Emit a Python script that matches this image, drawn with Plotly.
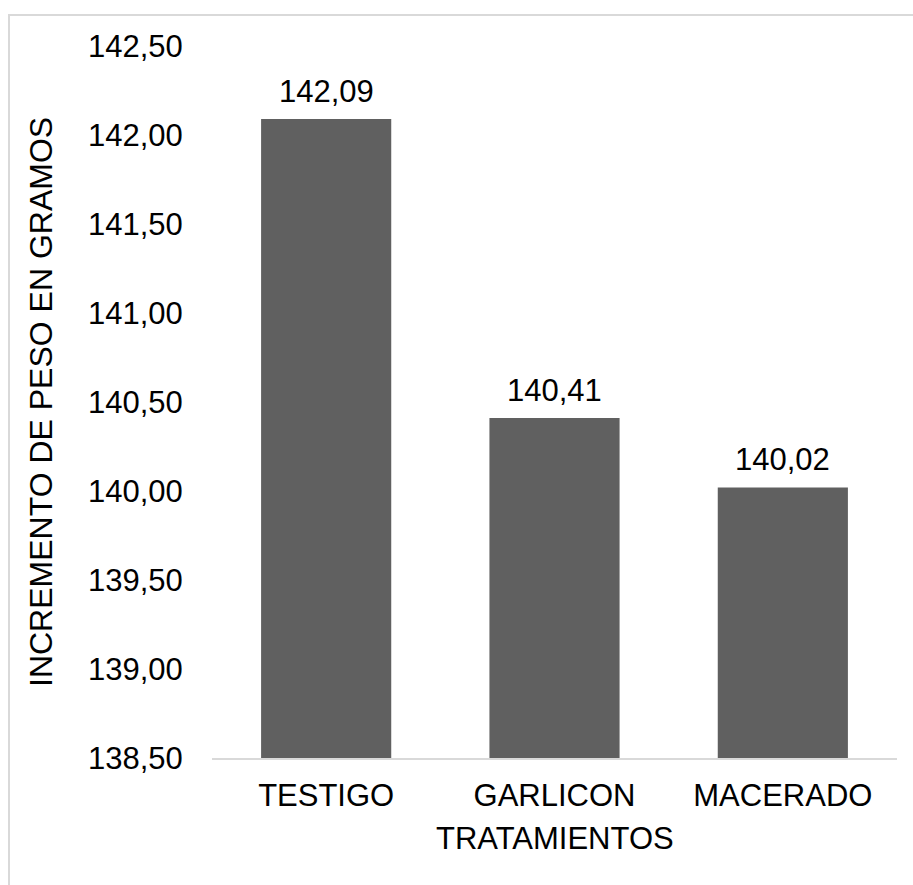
import plotly.graph_objects as go

# Treatments and mean weight gain (grams)
categories = ["TESTIGO", "GARLICON", "MACERADO"]
values = [142.09, 140.41, 140.02]
y_ticks = [138.5, 139.0, 139.5, 140.0, 140.5, 141.0, 141.5, 142.0, 142.5]

FONT = "Arial, Liberation Sans, sans-serif"
W, H = 913, 885
L, R, T, B = 212, 16, 46, 127
PW, PH = W - L - R, H - T - B

fig = go.Figure(
    go.Bar(
        x=categories,
        y=values,
        marker=dict(color="#606060", line=dict(width=0)),
        cliponaxis=False,
    )
)

# value labels above each bar
for cat, val in zip(categories, values):
    fig.add_annotation(
        x=cat, y=val,
        text=f"{val:.2f}".replace(".", ","),
        xanchor="center", yanchor="bottom",
        yshift=8, showarrow=False,
        font=dict(family=FONT, size=31, color="#000000"),
    )

# outer chart frame (light grey), running off the right and bottom edges
fig.add_shape(
    type="rect",
    xref="paper", yref="paper",
    x0=(9 - L) / PW, x1=(W + 20 - L) / PW,
    y0=-(B + 20) / PH, y1=(H - B - 15) / PH,
    line=dict(color="#d9d9d9", width=2),
    fillcolor="rgba(0,0,0,0)",
    layer="below",
)

fig.add_annotation(
    text="INCREMENTO DE PESO EN GRAMOS",
    xref="paper", yref="paper",
    x=(41 - L) / PW, y=0.5,
    xanchor="center", yanchor="middle",
    textangle=-90, showarrow=False,
    font=dict(family=FONT, size=32, color="#000000"),
)

fig.add_annotation(
    text="TRATAMIENTOS",
    xref="paper", yref="paper",
    x=0.5, y=-(838 - (H - B)) / PH,
    xanchor="center", yanchor="middle",
    showarrow=False,
    font=dict(family=FONT, size=31, color="#000000"),
)

fig.update_layout(
    width=W, height=H,
    margin=dict(l=L, r=R, t=T, b=B, pad=0),
    paper_bgcolor="white",
    plot_bgcolor="white",
    separators=",.",
    bargap=0.43,
    showlegend=False,
    font=dict(family=FONT, size=31, color="#000000"),
    xaxis=dict(
        showline=True, linecolor="#d9d9d9", linewidth=1.5,
        showgrid=False, ticks="outside", ticklen=9, tickcolor="rgba(0,0,0,0)",
        tickfont=dict(family=FONT, size=31, color="#000000"),
    ),
    yaxis=dict(
        range=[138.5, 142.5],
        tickvals=y_ticks,
        tickformat=".2f",
        showline=False, showgrid=False, zeroline=False,
        ticks="outside", ticklen=22, tickcolor="rgba(0,0,0,0)",
        tickfont=dict(family=FONT, size=31, color="#000000"),
    ),
)

fig.write_html("out.html")
